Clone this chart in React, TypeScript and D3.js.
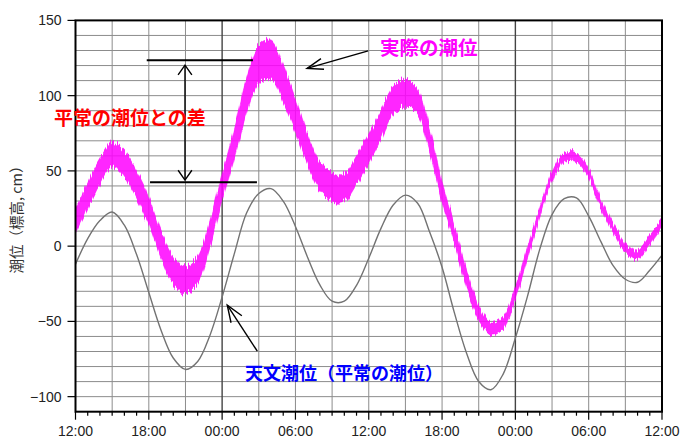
import React from "react";
import * as d3 from "d3";

// hours after 12:00 on the first day
const HOURS = d3.range(0, 49);

// astronomical tide (cm), hourly
const ASTRO = [
  -12, 5, 17, 22.7, 13.9, -5.6, -30.8, -55.8, -74.3, -81.9, -76.6, -59.3, -33.8,
  -5, 22, 35, 38.2, 29.9, 13.1, -7.5, -25.8, -36.6, -36.6, -26, -8,
  11.8, 27.3, 33.9, 28.5, 9, -14, -44, -71, -89.9, -95.4, -85, -61,
  -33, -2, 21, 31.5, 32, 20, 3, -13, -22, -24, -16, -6,
];

// observed tide (cm), hourly upper / lower envelope of the fluctuating record
const OBS_HIGH = [
  24, 42, 58, 69, 63, 50, 33, 10, -7, -13, -7, 17, 48,
  78, 112, 133, 137, 120, 98, 74, 56, 49, 48, 60, 74,
  90, 106, 111, 104, 78, 43, 14, -16, -39, -51, -47, -27,
  0, 25, 49, 62, 62, 51, 31, 15, 2, -3, 7, 18,
];
const OBS_LOW = [
  8, 25, 42, 53, 46, 32, 15, -8, -25, -31, -25, -1, 30,
  58, 89, 108, 111, 96, 76, 54, 37, 30, 30, 41, 55,
  71, 87, 93, 88, 62, 29, 2, -28, -49, -59, -55, -35,
  -8, 19, 43, 56, 56, 45, 25, 9, -4, -9, 1, 12,
];

const X_TICK_HOURS = [0, 6, 12, 18, 24, 30, 36, 42, 48];
const X_TICK_LABELS = ["12:00", "18:00", "00:00", "06:00", "12:00", "18:00", "00:00", "06:00", "12:00"];
const MIDNIGHTS = [12, 36];
const Y_TICKS = [-100, -50, 0, 50, 100, 150];

const NUM_FONT = "'Liberation Sans', Arial, Helvetica, sans-serif";
const JP_FONT = "'Noto Sans CJK JP', 'Noto Sans', sans-serif";

function arrowHead(tip: [number, number], tail: [number, number], half: number, len: number) {
  const ang = Math.atan2(tail[1] - tip[1], tail[0] - tip[0]);
  const a1 = ang - (half * Math.PI) / 180;
  const a2 = ang + (half * Math.PI) / 180;
  const p1 = [tip[0] + len * Math.cos(a1), tip[1] + len * Math.sin(a1)];
  const p2 = [tip[0] + len * Math.cos(a2), tip[1] + len * Math.sin(a2)];
  return `M${p1[0]},${p1[1]}L${tip[0]},${tip[1]}L${p2[0]},${p2[1]}`;
}

export default function App() {
  const W = 682;
  const H = 440;
  const x = d3.scaleLinear().domain([0, 48]).range([75.5, 662]);
  const y = d3.scaleLinear().domain([-110, 150]).range([411.7, 20.4]);
  const [x0, x1] = x.range();
  const [yb, yt] = y.range();

  const gridH = d3.range(-100, 150, 10);
  const gridV = d3.range(3, 48, 3);
  const minorX = d3.range(1, 48, 1).filter((h) => h % 6 !== 0);

  const astroLine = d3
    .line<number>()
    .x((h) => x(h))
    .y((_, i) => y(ASTRO[i]))
    .curve(d3.curveCatmullRom)(HOURS) as string;

  const obsArea = d3
    .area<number>()
    .x((h) => x(h))
    .y0((_, i) => y(OBS_LOW[i]))
    .y1((_, i) => y(OBS_HIGH[i]))
    .curve(d3.curveCatmullRom)(HOURS) as string;

  // annotations in data coordinates (hours, cm)
  const topLine = { h0: 5.83, h1: 14.52, v: 123.5 };
  const botLine = { h0: 6.1, h1: 14.85, v: 42.5 };
  const dbl = { h: 8.96, v0: 120.3, v1: 43.9 };
  const obsArrow = { tail: [23.95, 129.8], tip: [18.95, 118.1] };
  const astArrow = { tail: [14.88, -69.8], tip: [12.42, -39.2] };

  const dTop: [number, number] = [x(dbl.h), y(dbl.v0)];
  const dBot: [number, number] = [x(dbl.h), y(dbl.v1)];
  const oTail: [number, number] = [x(obsArrow.tail[0]), y(obsArrow.tail[1])];
  const oTip: [number, number] = [x(obsArrow.tip[0]), y(obsArrow.tip[1])];
  const aTail: [number, number] = [x(astArrow.tail[0]), y(astArrow.tail[1])];
  const aTip: [number, number] = [x(astArrow.tip[0]), y(astArrow.tip[1])];

  return (
    <svg
      width={W}
      height={H}
      style={{ position: "absolute", left: 0, top: 0, background: "#fff" }}
    >
      <defs>
        <clipPath id="plot">
          <rect x={x0} y={yt} width={x1 - x0} height={yb - yt} />
        </clipPath>
        <filter id="jag" filterUnits="userSpaceOnUse" x={x0 - 5} y={yt - 10} width={x1 - x0 + 10} height={yb - yt + 20}>
          <feTurbulence type="fractalNoise" baseFrequency="0.7 0.012" numOctaves={2} seed={4} result="n" />
          <feColorMatrix
            in="n"
            type="matrix"
            values="0 0 0 0 0.5  0 1 0 0 0  0 0 0 0 0  0 0 0 0 1"
            result="m"
          />
          <feDisplacementMap in="SourceGraphic" in2="m" scale={14} xChannelSelector="R" yChannelSelector="G" />
        </filter>
      </defs>
      <rect x={0} y={0} width={W} height={H} fill="#fff" />
      {/* grid */}
      <g stroke="#8c8c8c" strokeWidth={1}>
        {gridH.map((v) => (
          <line key={"h" + v} x1={x0} x2={x1} y1={y(v)} y2={y(v)} />
        ))}
        {gridV.map((h) => (
          <line
            key={"v" + h}
            x1={x(h)}
            x2={x(h)}
            y1={yt}
            y2={yb}
            stroke={MIDNIGHTS.includes(h) ? "#444" : "#8c8c8c"}
            strokeWidth={MIDNIGHTS.includes(h) ? 1.4 : 1}
          />
        ))}
      </g>
      <g clipPath="url(#plot)">
        <path d={astroLine} fill="none" stroke="#737373" strokeWidth={1.4} />
        <g filter="url(#jag)">
          <path d={obsArea} fill="#ff00ff" fillOpacity={0.85} stroke="#ff00ff" strokeWidth={1} strokeOpacity={0.5} />
        </g>
      </g>
      {/* frame */}
      <rect x={x0} y={yt} width={x1 - x0} height={yb - yt} fill="none" stroke="#000" strokeWidth={2} />
      {/* y axis */}
      <g fontFamily={NUM_FONT} fontSize={14} fill="#222">
        {Y_TICKS.map((v) => (
          <g key={"yt" + v}>
            <line x1={x0 - 8} x2={x0} y1={y(v)} y2={y(v)} stroke="#000" strokeWidth={1.2} />
            <text x={x0 - 14} y={y(v)} dy="0.36em" textAnchor="end">
              {v < 0 ? "\u2212" + Math.abs(v) : v}
            </text>
          </g>
        ))}
      </g>
      {/* x axis */}
      <g stroke="#000" strokeWidth={1.2}>
        {minorX.map((h) => (
          <line key={"mx" + h} x1={x(h)} x2={x(h)} y1={yb} y2={yb + 4} />
        ))}
        {X_TICK_HOURS.map((h) => (
          <line key={"Mx" + h} x1={x(h)} x2={x(h)} y1={yb} y2={yb + 8} />
        ))}
      </g>
      <g fontFamily={NUM_FONT} fontSize={14} fill="#222" textAnchor="middle">
        {X_TICK_HOURS.map((h, i) => (
          <text key={"xl" + i} x={x(h)} y={436}>
            {X_TICK_LABELS[i]}
          </text>
        ))}
      </g>
      {/* y title */}
      <text
        transform={`translate(22,${(yt + yb) / 2}) rotate(-90)`}
        textAnchor="middle"
        fontFamily={JP_FONT}
        fontSize={14.5}
        fill="#333"
      >
        潮位（標高, cm）
      </text>
      {/* annotations */}
      <g stroke="#000" fill="none">
        <line x1={x(topLine.h0)} x2={x(topLine.h1)} y1={y(topLine.v)} y2={y(topLine.v)} strokeWidth={2} />
        <line x1={x(botLine.h0)} x2={x(botLine.h1)} y1={y(botLine.v)} y2={y(botLine.v)} strokeWidth={2} />
        <line x1={dTop[0]} x2={dBot[0]} y1={dTop[1]} y2={dBot[1]} strokeWidth={1.4} />
        <path d={arrowHead(dTop, dBot, 35, 12)} strokeWidth={1.4} />
        <path d={arrowHead(dBot, dTop, 35, 12)} strokeWidth={1.4} />
        <line x1={oTail[0]} y1={oTail[1]} x2={oTip[0]} y2={oTip[1]} strokeWidth={1.4} />
        <path d={arrowHead(oTip, oTail, 19, 17)} strokeWidth={1.4} />
        <line x1={aTail[0]} y1={aTail[1]} x2={aTip[0]} y2={aTip[1]} strokeWidth={1.4} />
        <path d={arrowHead(aTip, aTail, 21, 18)} strokeWidth={1.4} />
      </g>
      <g fontFamily={JP_FONT} fontWeight={700}>
        <text x={54} y={125} fontSize={19} fill="#ff0000">
          平常の潮位との差
        </text>
        <text x={380} y={55} fontSize={19.5} fill="#ff00ff">
          実際の潮位
        </text>
        <text x={245} y={380} fontSize={18} fill="#0000ff">
          天文潮位（平常の潮位）
        </text>
      </g>
    </svg>
  );
}
